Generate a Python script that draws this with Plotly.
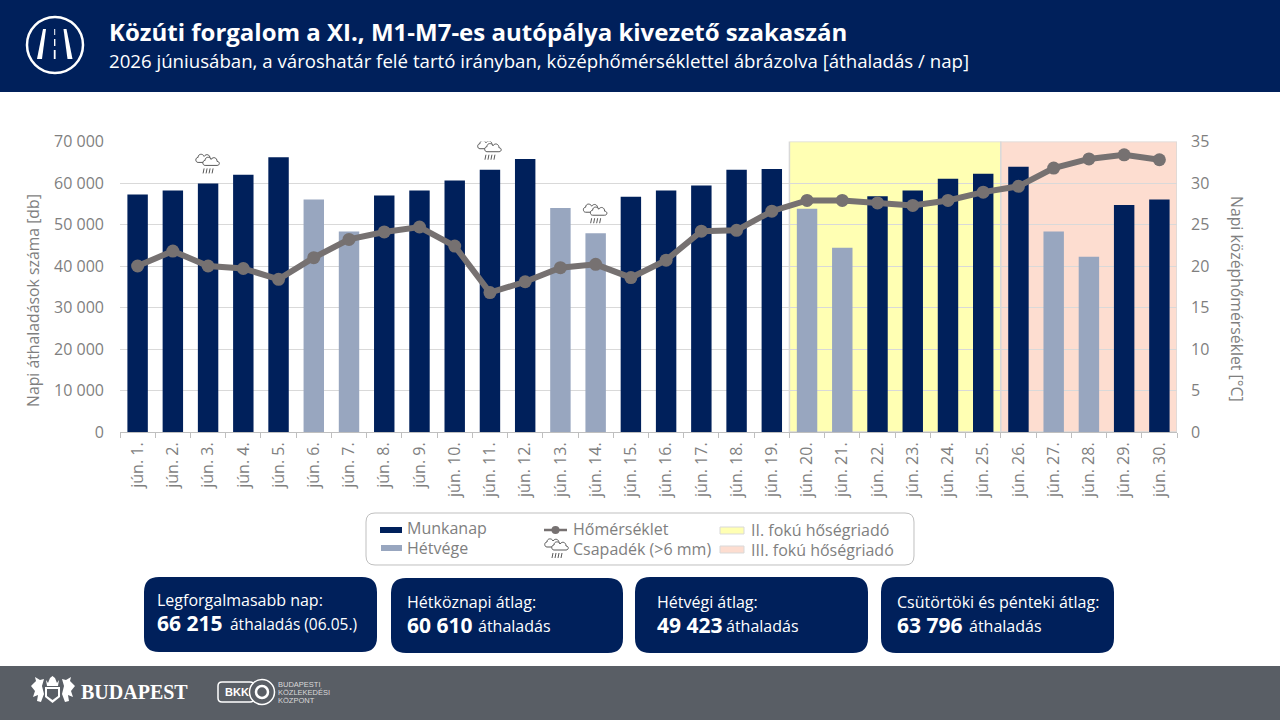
import plotly.graph_objects as go

days = [f'jún. {i}.' for i in range(1, 31)]
traffic = [57200, 58200, 59900, 62000, 66215, 56000, 48300, 57000, 58200, 60600,
           63200, 65800, 54000, 47900, 56700, 58200, 59400, 63200, 63400, 53800,
           44400, 56800, 58200, 61000, 62200, 63900, 48300, 42200, 54700, 56000]
temperature = [20.0, 21.8, 20.0, 19.7, 18.4, 21.0, 23.2, 24.1, 24.7, 22.4,
               16.8, 18.1, 19.8, 20.2, 18.6, 20.7, 24.2, 24.3, 26.6, 27.9,
               27.9, 27.6, 27.3, 27.9, 28.9, 29.6, 31.8, 32.9, 33.4, 32.8]
weekend_days = ['jún. 6.', 'jún. 7.', 'jún. 13.', 'jún. 14.', 'jún. 20.', 'jún. 21.', 'jún. 27.', 'jún. 28.']
rain_days = ['jún. 3.', 'jún. 11.', 'jún. 14.']
heat_ii_days = ['jún. 20.', 'jún. 25.']
heat_iii_days = ['jún. 26.', 'jún. 30.']
traffic_ticks = [0, 10000, 20000, 30000, 40000, 50000, 60000, 70000]
temp_ticks = [0, 5, 10, 15, 20, 25, 30, 35]

NAVY = '#00205B'
WEEKEND = '#98A6BF'
GREY = '#7F7F7F'
LINE = '#767171'
YELLOW = '#FFFFB3'
PEACH = '#FDDDD0'
FOOTER = '#595E65'
BORDER = '#D9D9D9'


def px(x):
    return x / 1280


def py(y):
    return 1 - y / 720


def label(x, y, text, size, color='white', anchor='left', family='Open Sans', angle=0):
    return dict(x=px(x), y=py(y), xref='paper', yref='paper', text=text, showarrow=False,
                xanchor=anchor, yanchor='middle', align=anchor, textangle=angle, borderpad=0, borderwidth=0,
                font=dict(size=size, color=color, family=family))


def rect(x0, y0, x1, y1, fill, layer='below', border=None):
    return dict(type='rect', xref='paper', yref='paper', x0=px(x0), x1=px(x1), y0=py(y0), y1=py(y1),
                fillcolor=fill, line=dict(width=1 if border else 0, color=border), layer=layer)


def band(day_range, fill):
    return dict(type='rect', xref='x', yref='y', x0=days.index(day_range[0]) - 0.5, x1=days.index(day_range[1]) + 0.5,
                y0=0, y1=traffic_ticks[-1], fillcolor=fill, line=dict(width=1.5, color=BORDER), layer='below')


def poly(points, fill='white'):
    path = 'M' + ' L'.join(f'{px(a):.5f},{py(b):.5f}' for a, b in points) + ' Z'
    return dict(type='path', xref='paper', yref='paper', path=path, fillcolor=fill, line=dict(width=0))


def round_rect(x0, y0, x1, y1, r, fill, line_color=None, line_width=0):
    p = [('M', x0 + r, y0), ('L', x1 - r, y0), ('Q', x1, y0, x1, y0 + r), ('L', x1, y1 - r),
         ('Q', x1, y1, x1 - r, y1), ('L', x0 + r, y1), ('Q', x0, y1, x0, y1 - r), ('L', x0, y0 + r),
         ('Q', x0, y0, x0 + r, y0)]
    path = ''
    for seg in p:
        coords = seg[1:]
        pairs = [f'{px(coords[i]):.5f},{py(coords[i + 1]):.5f}' for i in range(0, len(coords), 2)]
        path += seg[0] + ' '.join(pairs) + ' '
    return dict(type='path', xref='paper', yref='paper', path=path + 'Z', fillcolor=fill,
                line=dict(width=line_width, color=line_color or fill), layer='below')


def circle(cx, cy, r, fill, line_color, width):
    return dict(type='circle', xref='paper', yref='paper', x0=px(cx - r), x1=px(cx + r), y0=py(cy + r), y1=py(cy - r),
                fillcolor=fill, line=dict(color=line_color, width=width))


def cloud_path(x, y):
    return (f'M{x - 6},{y - 3} C{x - 9},{y - 3} {x - 9},{y + 2} {x - 6},{y + 2} '
            f'C{x - 6},{y + 6} {x - 1},{y + 6} {x},{y + 3} '
            f'C{x + 2},{y + 6} {x + 6},{y + 5} {x + 6},{y + 1} '
            f'C{x + 9},{y + 1} {x + 9},{y - 3} {x + 6},{y - 3} Z')


def rain_icon(xref, yref, xa, ya, dy=0):
    # small cloud with four drops, sized in pixels around an anchor
    base = dict(type='path', xref=xref, yref=yref, xsizemode='pixel', ysizemode='pixel', xanchor=xa, yanchor=ya)
    drops = ' '.join(f'M{d},{dy - 4} L{d - 1},{dy - 9}' for d in [-4, -1, 2, 5])
    return [
        dict(base, path=cloud_path(-4, dy + 5), fillcolor='white', line=dict(color='#595959', width=1)),
        dict(base, path=cloud_path(3, dy + 2), fillcolor='white', line=dict(color='#595959', width=1)),
        dict(base, path=drops, line=dict(color='#595959', width=1)),
    ]


colors = [WEEKEND if d in weekend_days else NAVY for d in days]

fig = go.Figure()
fig.add_trace(go.Bar(x=days, y=traffic, marker_color=colors, marker_line_width=0, width=0.58,
                     name='Áthaladás', showlegend=False))
fig.add_trace(go.Scatter(x=days, y=temperature, yaxis='y2', mode='lines+markers', name='Hőmérséklet',
                         line=dict(color=LINE, width=6), marker=dict(color=LINE, size=13),
                         showlegend=False))

shapes = [
    rect(0, 0, 1280, 92, NAVY),
    rect(0, 666, 1280, 720, FOOTER),
    band(heat_ii_days, YELLOW),
    band(heat_iii_days, PEACH),
]

# road icon in the header
shapes += [
    circle(55, 45, 28, 'rgba(0,0,0,0)', 'white', 2.5),
    poly([(43, 29), (46, 29), (42, 59), (37, 59)]),
    poly([(63.5, 29), (66.5, 29), (72.5, 59), (67.5, 59)]),
    poly([(54.2, 29), (55.2, 29), (55.2, 35), (54.2, 35)]),
    poly([(54, 39), (55.4, 39), (55.4, 46), (54, 46)]),
    poly([(53.8, 50), (55.6, 50), (55.6, 59), (53.8, 59)]),
]

# rain markers above the bars
for d in rain_days:
    shapes += rain_icon('x', 'y', d, traffic[days.index(d)], dy=19)

# legend box
shapes += [
    round_rect(366, 513, 914, 565, 9, 'white', '#BFBFBF', 1),
    rect(380, 527, 402, 533, NAVY),
    rect(381, 545, 402, 551, WEEKEND),
    dict(type='line', xref='paper', yref='paper', x0=px(544), x1=px(567), y0=py(530), y1=py(530),
         line=dict(color=LINE, width=2.5)),
    circle(555.5, 530, 4, LINE, LINE, 0),
    rect(720, 527, 744, 534, YELLOW, border=BORDER),
    rect(720, 546, 744, 553, PEACH, border=BORDER),
]
shapes += rain_icon('paper', 'paper', px(557), py(549), dy=0)

# cards
card_boxes = [(144, 577, 377, 652), (391, 578, 623, 653), (635, 577, 868, 653), (881, 577, 1114, 653)]
for box in card_boxes:
    shapes.append(round_rect(*box, 15, NAVY))

# footer logos
shapes += [
    poly([(45, 687), (60, 687), (60, 697), (52.5, 703), (45, 697)]),
    poly([(46, 680), (48, 683), (50, 678), (52.5, 676), (55, 678), (57, 683), (59, 680), (58, 686), (47, 686)]),
    poly([(31, 686), (36, 681), (35, 677), (40, 680), (44, 679), (42, 686), (44, 694), (41, 702), (37, 701),
          (38, 695), (33, 697), (35, 691)]),
    poly([(75, 686), (70, 681), (71, 677), (66, 680), (62, 679), (64, 686), (62, 694), (65, 702), (69, 701),
          (68, 695), (73, 697), (71, 691)]),
    poly([(47, 689), (58, 689), (58, 696), (52.5, 700), (47, 696)], FOOTER),
    dict(round_rect(218, 682, 254, 702, 4, 'rgba(0,0,0,0)', 'white', 1.5), layer='above'),
    circle(262, 692, 12.5, FOOTER, 'white', 1.5),
    circle(262, 692, 6, FOOTER, 'white', 2.5),
]

annotations = [
    label(109, 32, '<b>Közúti forgalom a XI., M1-M7-es autópálya kivezető szakaszán</b>', 24),
    label(109, 60, '2026 júniusában, a városhatár felé tartó irányban, középhőmérséklettel ábrázolva [áthaladás / nap]', 18.65),
    label(33, 301, 'Napi áthaladások száma [db]', 15.8, GREY, anchor='center', angle=-90),
    label(1237, 299, 'Napi középhőmérséklet [°C]', 15.8, GREY, anchor='center', angle=90),
    label(407, 527.5, 'Munkanap', 16, GREY),
    label(407, 547.5, 'Hétvége', 16, GREY),
    label(573, 529, 'Hőmérséklet', 16, GREY),
    label(573, 549, 'Csapadék (>6 mm)', 16, GREY),
    label(751, 529.5, 'II. fokú hőségriadó', 16, GREY),
    label(751, 549.5, 'III. fokú hőségriadó', 16, GREY),
    label(157, 599.5, 'Legforgalmasabb nap:', 16),
    label(157, 622.5, '<b>66 215</b>', 21),
    label(230, 624, 'áthaladás (06.05.)', 15.5),
    label(407, 602, 'Hétköznapi átlag:', 16),
    label(407, 625, '<b>60 610</b>', 21),
    label(478, 626, 'áthaladás', 16),
    label(657, 602, 'Hétvégi átlag:', 16),
    label(657, 625, '<b>49 423</b>', 21),
    label(726, 626, 'áthaladás', 16),
    label(897, 602, 'Csütörtöki és pénteki átlag:', 16),
    label(897, 625, '<b>63 796</b>', 21),
    label(969, 626, 'áthaladás', 16),
    label(81, 692, '<b>BUDAPEST</b>', 20, family='Liberation Serif'),
    label(225, 692, '<b>BKK</b>', 11, family='Liberation Sans'),
    label(278, 684, 'BUDAPESTI', 7.5, '#D9D9D9', family='Liberation Sans'),
    label(278, 692, 'KÖZLEKEDÉSI', 7.5, '#D9D9D9', family='Liberation Sans'),
    label(278, 700, 'KÖZPONT', 7.5, '#D9D9D9', family='Liberation Sans'),
]

fig.update_layout(
    width=1280, height=720, margin=dict(l=0, r=0, t=0, b=0),
    paper_bgcolor='white', plot_bgcolor='rgba(0,0,0,0)',
    font=dict(family='Open Sans', color=GREY), separators=', ',
    shapes=shapes, annotations=annotations, bargap=0.42,
    xaxis=dict(domain=[px(120), px(1177)], categoryorder='array', categoryarray=days, range=[-0.5, 29.5],
               tickangle=-90, tickfont=dict(size=16, color=GREY), ticks='outside', ticklen=5,
               tickcolor='#BFBFBF', tickson='boundaries', showline=True, linecolor='#BFBFBF',
               showgrid=False, automargin=False, ticklabelstandoff=3),
    yaxis=dict(domain=[py(432), py(141.5)], range=[0, 70000], tickvals=traffic_ticks, tickformat=',d',
               tickfont=dict(size=16, color=GREY), gridcolor=BORDER, gridwidth=1, zeroline=False,
               showline=False, ticks='', automargin=False, ticklabelstandoff=15),
    yaxis2=dict(domain=[py(432), py(141.5)], range=[0, 35], tickvals=temp_ticks, overlaying='y', side='right',
                tickfont=dict(size=16, color=GREY), showgrid=False, zeroline=False, showline=False,
                automargin=False, ticklabelstandoff=13),
)

fig.write_html('out.html', config=dict(displayModeBar=False),
               post_script="document.body.style.margin='0';document.body.style.overflow='hidden';")
